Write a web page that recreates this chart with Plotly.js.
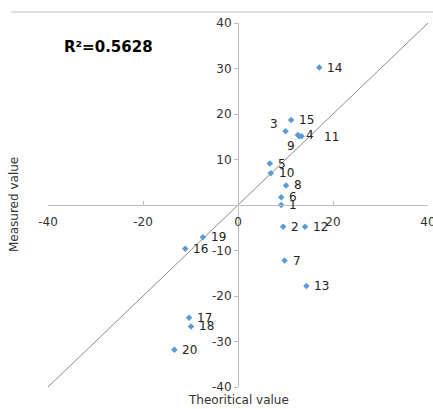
<!DOCTYPE html>
<html>
<head>
<meta charset="utf-8">
<script src="https://cdn.plot.ly/plotly-3.0.1.min.js"></script>
<style>html,body{margin:0;padding:0;background:#fff;}#chart{width:433px;height:409px;}</style>
</head>
<body>
<div id="chart"></div>
<script>
// ---- data ----
const pointLabels = ["1","2","3","4","5","6","7","8","9","10","11","12","13","14","15","16","17","18","19","20"];
const theoretical = [9.1, 9.5, 10.0, 12.6, 6.7, 9.1, 9.8, 10.1, 12.9, 6.9, 13.4, 14.1, 14.4, 17.1, 11.2, -11.1, -10.3, -9.9, -7.4, -13.4];
const measured    = [0.0, -4.8, 16.2, 15.4, 9.1, 1.7, -12.2, 4.3, 15.1, 7.0, 15.1, -4.8, -17.8, 30.2, 18.7, -9.6, -24.8, -26.7, -7.1, -31.8];
const refLineX = [-40, 40];
const refLineY = [-40, 40];
const tickVals = [-40, -30, -20, -10, 10, 20, 30, 40];
const xTickVals = [-40, -20, 0, 20, 40];
const rSquaredText = "R\u00B2=0.5628";

// ---- label placement (style) ----
const defaultOffset = {xanchor: "left", xshift: 6, yshift: 0};
const specialOffsets = {
  "3":  {xanchor: "right", xshift: -6, yshift: 7},
  "9":  {xanchor: "center", xshift: -8, yshift: -10},
  "11": {xanchor: "left", xshift: 20, yshift: -1}
};

const font = "DejaVu Sans, Verdana, sans-serif";
const axisColor = "#bfbfbf";

const labelAnnotations = pointLabels.map((t, i) => {
  const o = specialOffsets[t] || defaultOffset;
  return {
    x: theoretical[i], y: measured[i], xref: "x", yref: "y",
    text: t, showarrow: false, xanchor: o.xanchor, yanchor: "middle",
    xshift: o.xshift, yshift: o.yshift,
    font: {family: font, size: 12, color: "#222"}
  };
});

const traces = [
  {
    x: refLineX, y: refLineY, mode: "lines", type: "scatter",
    line: {color: "#8c8c8c", width: 1}, hoverinfo: "skip"
  },
  {
    x: theoretical, y: measured, mode: "markers", type: "scatter",
    marker: {symbol: "diamond", size: 5, color: "#5b9bd5"}
  }
];

const layout = {
  width: 433, height: 409,
  margin: {l: 48, r: 5, t: 23, b: 22},
  paper_bgcolor: "#fff", plot_bgcolor: "#fff",
  showlegend: false,
  font: {family: font, size: 12, color: "#333"},
  xaxis: {
    range: [-40, 40], tickvals: xTickVals, ticktext: xTickVals.map(String),
    showgrid: false, zeroline: false, showline: true, linecolor: axisColor, linewidth: 1,
    ticks: "inside", ticklen: 4, tickcolor: axisColor, ticklabelstandoff: 6,
    anchor: "free", position: 0.5, side: "bottom", ticklabeloverflow: "allow",
    tickfont: {family: font, size: 12, color: "#333"}, fixedrange: true
  },
  yaxis: {
    range: [-40, 40], tickvals: tickVals, ticktext: tickVals.map(String),
    showgrid: false, zeroline: false, showline: true, linecolor: axisColor, linewidth: 1,
    ticks: "outside", ticklen: 4, tickcolor: axisColor,
    anchor: "free", position: 0.5, side: "left", ticklabeloverflow: "allow",
    tickfont: {family: font, size: 12, color: "#333"}, fixedrange: true
  },
  shapes: [
    {type: "line", xref: "paper", yref: "paper",
     x0: -37/380, x1: 1 + 5/380, y0: 1 + 11/364, y1: 1 + 11/364,
     line: {color: "#bfbfbf", width: 1}}
  ],
  annotations: labelAnnotations.concat([
    {xref: "paper", yref: "paper", x: 14/380, y: 1 - 24/364, text: "<b>" + rSquaredText + "</b>",
     showarrow: false, xanchor: "left", yanchor: "middle",
     font: {family: font, size: 15, color: "#000"}},
    {xref: "paper", yref: "paper", x: 0.5, y: -13/364, text: "Theoritical value",
     showarrow: false, xanchor: "center", yanchor: "middle",
     font: {family: font, size: 12, color: "#333"}},
    {xref: "paper", yref: "paper", x: -34/380, y: 0.5, text: "Measured value", textangle: -90,
     showarrow: false, xanchor: "center", yanchor: "middle",
     font: {family: font, size: 12, color: "#333"}}
  ])
};

Plotly.newPlot("chart", traces, layout, {displayModeBar: false, staticPlot: true});
</script>
</body>
</html>
